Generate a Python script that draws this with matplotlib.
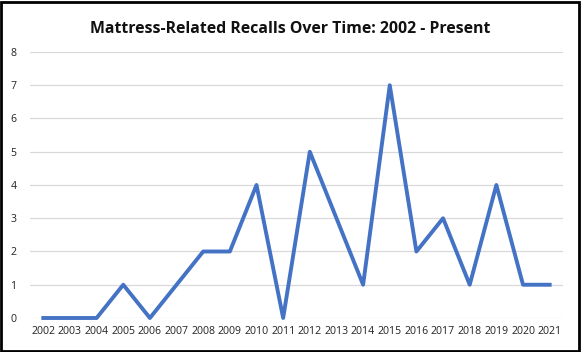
import matplotlib
matplotlib.use("Agg")
import matplotlib.pyplot as plt
from matplotlib.patches import Rectangle

years = [str(y) for y in range(2002, 2022)]
recalls = [0, 0, 0, 1, 0, 1, 2, 2, 4, 0, 5, 3, 1, 7, 2, 3, 1, 4, 1, 1]

plt.rcParams['font.family'] = ['Open Sans', 'DejaVu Sans']

fig = plt.figure(figsize=(5.81, 3.52), dpi=100)
ax = fig.add_axes([0.0516, 0.0966, 0.9174, 0.7557])

x = range(len(years))
ax.plot(x, recalls, color='#4472C4', linewidth=2.8, solid_joinstyle='round',
        clip_on=False)

ax.set_xlim(-0.5, len(years) - 0.5)
ax.set_ylim(0, 8)
ax.set_xticks(list(x))
ax.set_xticklabels(years, fontsize=7.6, color='#222222')
ax.set_yticks(range(0, 9))
ax.tick_params(axis='y', labelsize=7.6, colors='#222222', length=0, pad=14)
ax.tick_params(axis='x', length=0, pad=6)
ax.grid(axis='y', color='#D9D9D9', linewidth=0.9)
ax.set_axisbelow(True)
for s in ax.spines.values():
    s.set_visible(False)
for lbl in ax.get_yticklabels():
    lbl.set_horizontalalignment('left')

fig.text(0.5, 0.918, "Mattress-Related Recalls Over Time: 2002 - Present",
         ha='center', va='center', fontsize=11.4, fontweight='bold', color='#111111')

fig.patches.append(Rectangle((0.002, 0.003), 0.994, 0.992, transform=fig.transFigure,
                             fill=False, edgecolor='black', linewidth=2))

fig.savefig('out.png', dpi=100)
